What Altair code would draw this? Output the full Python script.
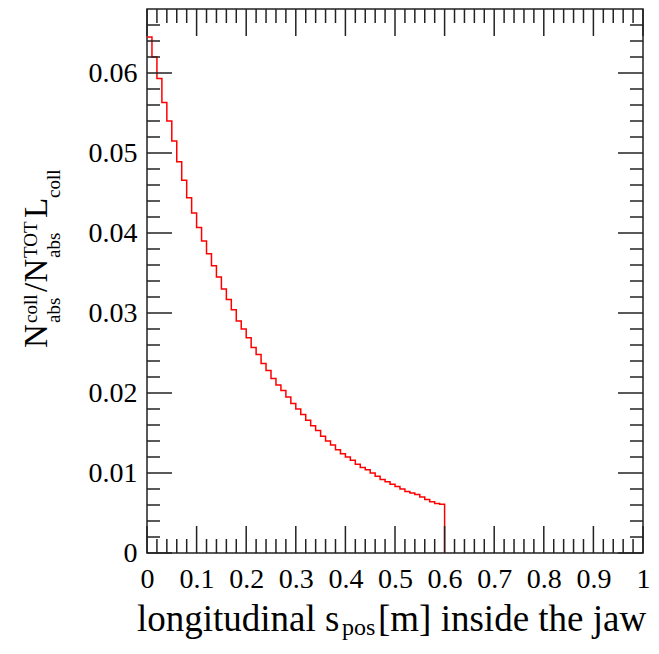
import altair as alt
import pandas as pd

# ---- data ----
bin_width = 0.01
absorbed = [
    0.0645, 0.0620, 0.0593, 0.0563, 0.0540, 0.0515, 0.0489, 0.0466, 0.0444, 0.0425,
    0.0407, 0.0390, 0.0374, 0.0359, 0.0345, 0.0330, 0.0317, 0.0304, 0.0290, 0.0280,
    0.0269, 0.0257, 0.0248, 0.0237, 0.0228, 0.0218, 0.0210, 0.0203, 0.0195, 0.0187,
    0.0180, 0.0173, 0.0166, 0.0159, 0.0153, 0.0146, 0.0140, 0.0135, 0.0129, 0.0124,
    0.0120, 0.0116, 0.0111, 0.0107, 0.0104, 0.0100, 0.0096, 0.0092, 0.0089, 0.0086,
    0.0083, 0.0080, 0.0077, 0.0075, 0.0073, 0.0070, 0.0067, 0.0064, 0.0062, 0.0061,
]
x_major_ticks = [0.0, 0.1, 0.2, 0.3, 0.4, 0.5, 0.6, 0.7, 0.8, 0.9, 1.0]
x_minor_ticks = [0.02, 0.04, 0.06, 0.08, 0.12, 0.14, 0.16, 0.18, 0.22, 0.24, 0.26, 0.28,
                 0.32, 0.34, 0.36, 0.38, 0.42, 0.44, 0.46, 0.48, 0.52, 0.54, 0.56, 0.58,
                 0.62, 0.64, 0.66, 0.68, 0.72, 0.74, 0.76, 0.78, 0.82, 0.84, 0.86, 0.88,
                 0.92, 0.94, 0.96, 0.98]
y_major_ticks = [0.0, 0.01, 0.02, 0.03, 0.04, 0.05, 0.06]
y_minor_ticks = [0.002, 0.004, 0.006, 0.008, 0.012, 0.014, 0.016, 0.018,
                 0.022, 0.024, 0.026, 0.028, 0.032, 0.034, 0.036, 0.038,
                 0.042, 0.044, 0.046, 0.048, 0.052, 0.054, 0.056, 0.058,
                 0.062, 0.064, 0.066]
x_domain = [0, 1]
y_domain = [0, 0.068]

W, H = 496, 544
FONT = "Liberation Serif"
TICK_COLOR = "#222222"

edges = [round(i * bin_width, 2) for i in range(len(absorbed) + 1)]
hist = pd.DataFrame({"s": edges, "v": absorbed + [0.0]})

xs = alt.Scale(domain=x_domain, nice=False, zero=False)
ys = alt.Scale(domain=y_domain, nice=False, zero=False)
x_axis = alt.Axis(values=x_major_ticks, format="~g", title=None)
y_axis = alt.Axis(values=y_major_ticks, format="~g", title=None)

line = alt.Chart(hist).mark_line(
    interpolate="step-after", color="#ff0000", strokeWidth=1.5
).encode(
    x=alt.X("s:Q", scale=xs, axis=x_axis),
    y=alt.Y("v:Q", scale=ys, axis=y_axis),
)


def xticks(vals, length, top):
    df = pd.DataFrame({"s": vals})
    if top:
        yy, yy2 = alt.value(0), alt.value(length)
    else:
        yy, yy2 = alt.value(H), alt.value(H - length)
    return alt.Chart(df).mark_rule(color=TICK_COLOR, strokeWidth=1.5).encode(
        x=alt.X("s:Q", scale=xs, axis=x_axis), y=yy, y2=yy2
    )


def yticks(vals, length, right):
    df = pd.DataFrame({"v": vals})
    if right:
        xx, xx2 = alt.value(W), alt.value(W - length)
    else:
        xx, xx2 = alt.value(0), alt.value(length)
    return alt.Chart(df).mark_rule(color=TICK_COLOR, strokeWidth=1.5).encode(
        y=alt.Y("v:Q", scale=ys, axis=y_axis), x=xx, x2=xx2
    )


def label(text, x, y, size, angle=0):
    return alt.Chart(alt.Data(values=[{"t": text}])).mark_text(
        x=x, y=y, fontSize=size, angle=angle, align="left",
        baseline="alphabetic", font=FONT, color="black"
    ).encode(text="t:N")


BIG_Y, SMALL_Y = 33, 19
ytitle = [
    label("N", -100, 339, BIG_Y, 270),
    label("coll", -110, 314, SMALL_Y, 270),
    label("abs", -87, 314, SMALL_Y, 270),
    label("/", -100, 283, BIG_Y, 270),
    label("N", -100, 273.5, BIG_Y, 270),
    label("TOT", -110, 249, SMALL_Y, 270),
    label("abs", -87, 249, SMALL_Y, 270),
    label("L", -100, 209, BIG_Y, 270),
    label("coll", -87, 189, SMALL_Y, 270),
]
xtitle = [
    label("longitudinal s", -10, 622, 37),
    label("pos", 195, 626, 24),
    label("[m] inside the jaw", 231, 622, 37),
]

layers = [line,
          xticks(x_major_ticks, 27, False), xticks(x_minor_ticks, 14, False),
          xticks(x_major_ticks, 27, True), xticks(x_minor_ticks, 14, True),
          yticks(y_major_ticks, 25, False), yticks(y_minor_ticks, 13, False),
          yticks(y_major_ticks, 25, True), yticks(y_minor_ticks, 13, True)] + ytitle + xtitle

chart = alt.layer(*layers).properties(
    width=W, height=H,
    autosize=alt.AutoSizeParams(type="none"),
    padding={"left": 139, "top": 1, "right": 8, "bottom": 87},
).configure_view(
    stroke=TICK_COLOR, strokeWidth=1.5
).configure_axis(
    labelFont=FONT, labelFontSize=28, labelColor="black",
    domain=False, ticks=False, grid=False, labelFlush=False, labelOverlap=False,
).configure_axisX(labelPadding=12).configure_axisY(labelPadding=10)

chart.save("out.html", embed_options={"renderer": "svg", "actions": False})
